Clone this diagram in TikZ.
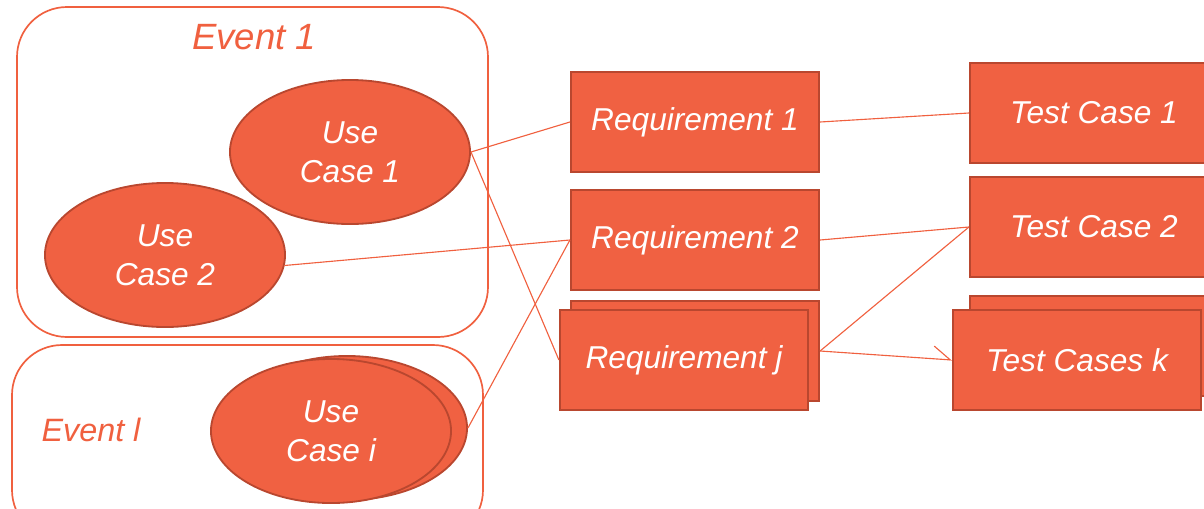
\documentclass[tikz,border=0pt]{standalone}
\usepackage{fontspec}
\setmainfont{Liberation Sans}
\usepackage{xcolor}
\usepackage{tikz}
\usetikzlibrary{shapes.geometric,arrows.meta}

\definecolor{boxfill}{HTML}{F06142}
\definecolor{boxline}{HTML}{B9472F}
\definecolor{linkcol}{HTML}{F0603F}

\begin{document}
\begin{tikzpicture}[
        x=0.025cm, y=-0.025cm,
        txt/.style={font=\fontsize{22.5}{27.5}\selectfont\itshape, text=white, align=center},
        usecase/.style={ellipse, draw=boxline, fill=boxfill, line width=1.3pt, minimum width=6cm, minimum height=3.6cm, inner sep=0pt, txt},
        reqbox/.style={rectangle, draw=boxline, fill=boxfill, line width=1.5pt, minimum width=6.2cm, minimum height=2.5cm, inner sep=0pt, txt},
        eventbox/.style={draw=linkcol, line width=1.2pt, rounded corners=1.25cm},
        link/.style={draw=linkcol, line width=0.8pt}
    ]
    \clip (0,0) rectangle (1204,508);

    % Event frames
    \draw[eventbox] (17,7) rectangle (488,337);
    \node[font=\fontsize{26}{30}\selectfont\itshape, text=linkcol] (E1) at (254,37) {Event 1};
    \draw[eventbox] (12,345) rectangle (483,540);
    \node[font=\fontsize{23}{28}\selectfont\itshape, text=linkcol] (El) at (91,430) {Event l};

    % Use cases
    \node[usecase] (UC1) at (350,152) {Use\\Case 1};
    \node[usecase] (UC2) at (165,255) {Use\\Case 2};
    \node[usecase] (UCib) at (347,428) {};
    \node[usecase] (UCi) at (331,431) {Use\\Case i};

    % Requirements
    \node[reqbox] (R1) at (695,122) {Requirement 1};
    \node[reqbox] (R2) at (695,240) {Requirement 2};
    \node[reqbox] (Rjb) at (695,351) {};
    \node[reqbox] (Rj) at (684,360) {Requirement j};

    % Test cases
    \node[reqbox] (T1) at (1094,113) {Test Case 1};
    \node[reqbox] (T2) at (1094,227) {Test Case 2};
    \node[reqbox] (Tkb) at (1094,346) {};
    \node[reqbox] (Tk) at (1077,360) {Test Cases k};

    % Links between them
    \draw[link] (UC1.east) -- (R1.west);
    \draw[link] (UC1.east) -- (Rj.west);
    \draw[link] (UC2.-5) -- (R2.west);
    \draw[link] (UCib.east) -- (R2.west);
    \draw[link] (R1.east) -- (T1.west);
    \draw[link] (R2.east) -- (T2.west);
    \draw[link] (Rjb.east) -- (T2.west);
    \draw[link, -{Straight Barb[left, length=12pt, width=18pt]}] (Rjb.east) -- (Tk.west);

\end{tikzpicture}
\end{document}
